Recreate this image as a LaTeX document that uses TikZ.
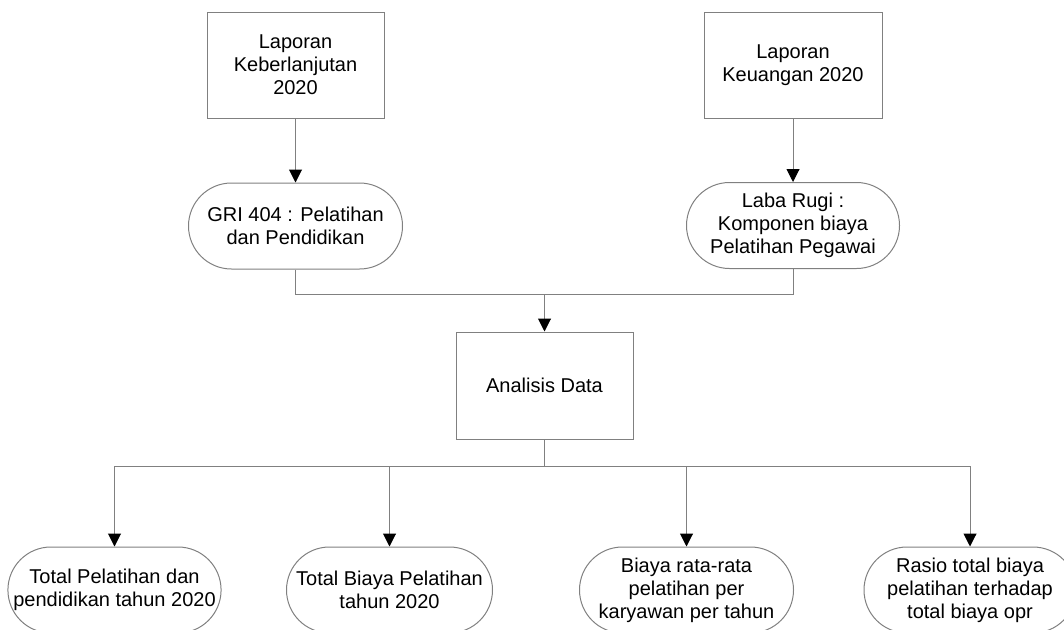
\documentclass[tikz,border=0pt]{standalone}
\usepackage{fontspec}
\setmainfont{Liberation Sans}
\usetikzlibrary{shapes.misc,arrows.meta}
\definecolor{ln}{HTML}{808080}
\tikzset{
  box/.style={draw=ln, line width=1pt, rectangle, align=center, inner sep=0pt,
    font=\fontsize{20}{23}\selectfont},
  pill/.style={draw=ln, line width=1pt, rounded rectangle, rounded rectangle arc length=180,
    align=center, inner sep=0pt, font=\fontsize{20}{23}\selectfont},
  conn/.style={draw=ln, line width=1pt},
  arr/.style={conn, -{Triangle[length=13pt,width=13pt,color=black]}}
}
\begin{document}
\begin{tikzpicture}[x=1pt,y=-1pt]
\useasboundingbox (0,0) rectangle (1064,629);
\clip (0,0) rectangle (1064,629);
\node[box, minimum width=177pt, minimum height=106pt] (lk) at (295.5,65) {Laporan\\Keberlanjutan\\2020};
\node[box, minimum width=178pt, minimum height=106pt] (lku) at (793,65) {Laporan\\Keuangan 2020};
\node[pill, minimum width=214pt, minimum height=86pt] (gri) at (295.5,226) {GRI 404 : Pelatihan\\dan Pendidikan};
\node[pill, minimum width=213pt, minimum height=86pt] (lr) at (793,225.5) {Laba Rugi :\\Komponen biaya\\Pelatihan Pegawai};
\node[box, minimum width=177pt, minimum height=107pt] (ad) at (544.5,385.5) {Analisis Data};
\node[pill, minimum width=205pt, minimum height=86pt] (b1) at (114.5,590) {Total Pelatihan dan\\pendidikan tahun 2020};
\node[pill, minimum width=206pt, minimum height=86pt] (b2) at (389.5,590) {Total Biaya Pelatihan\\tahun 2020};
\node[pill, minimum width=214pt, minimum height=86pt] (b3) at (686.5,590) {Biaya rata-rata\\pelatihan per\\karyawan per tahun};
\node[pill, minimum width=212pt, minimum height=86pt] (b4) at (970,590) {Rasio total biaya\\pelatihan terhadap\\total biaya opr};
\coordinate (j) at (544.5,294.5);
\coordinate (k) at (544.5,466.5);
\draw[arr] (lk.south) -- (gri.north);
\draw[arr] (lku.south) -- (lr.north);
\draw[conn] (gri.south) |- (j);
\draw[conn] (lr.south) |- (j);
\draw[arr] (j) -- (ad.north);
\draw[conn] (ad.south) -- (k);
\draw[arr] (k) -| (b1.north);
\draw[arr] (k) -| (b2.north);
\draw[arr] (k) -| (b3.north);
\draw[arr] (k) -| (b4.north);
\end{tikzpicture}
\end{document}
